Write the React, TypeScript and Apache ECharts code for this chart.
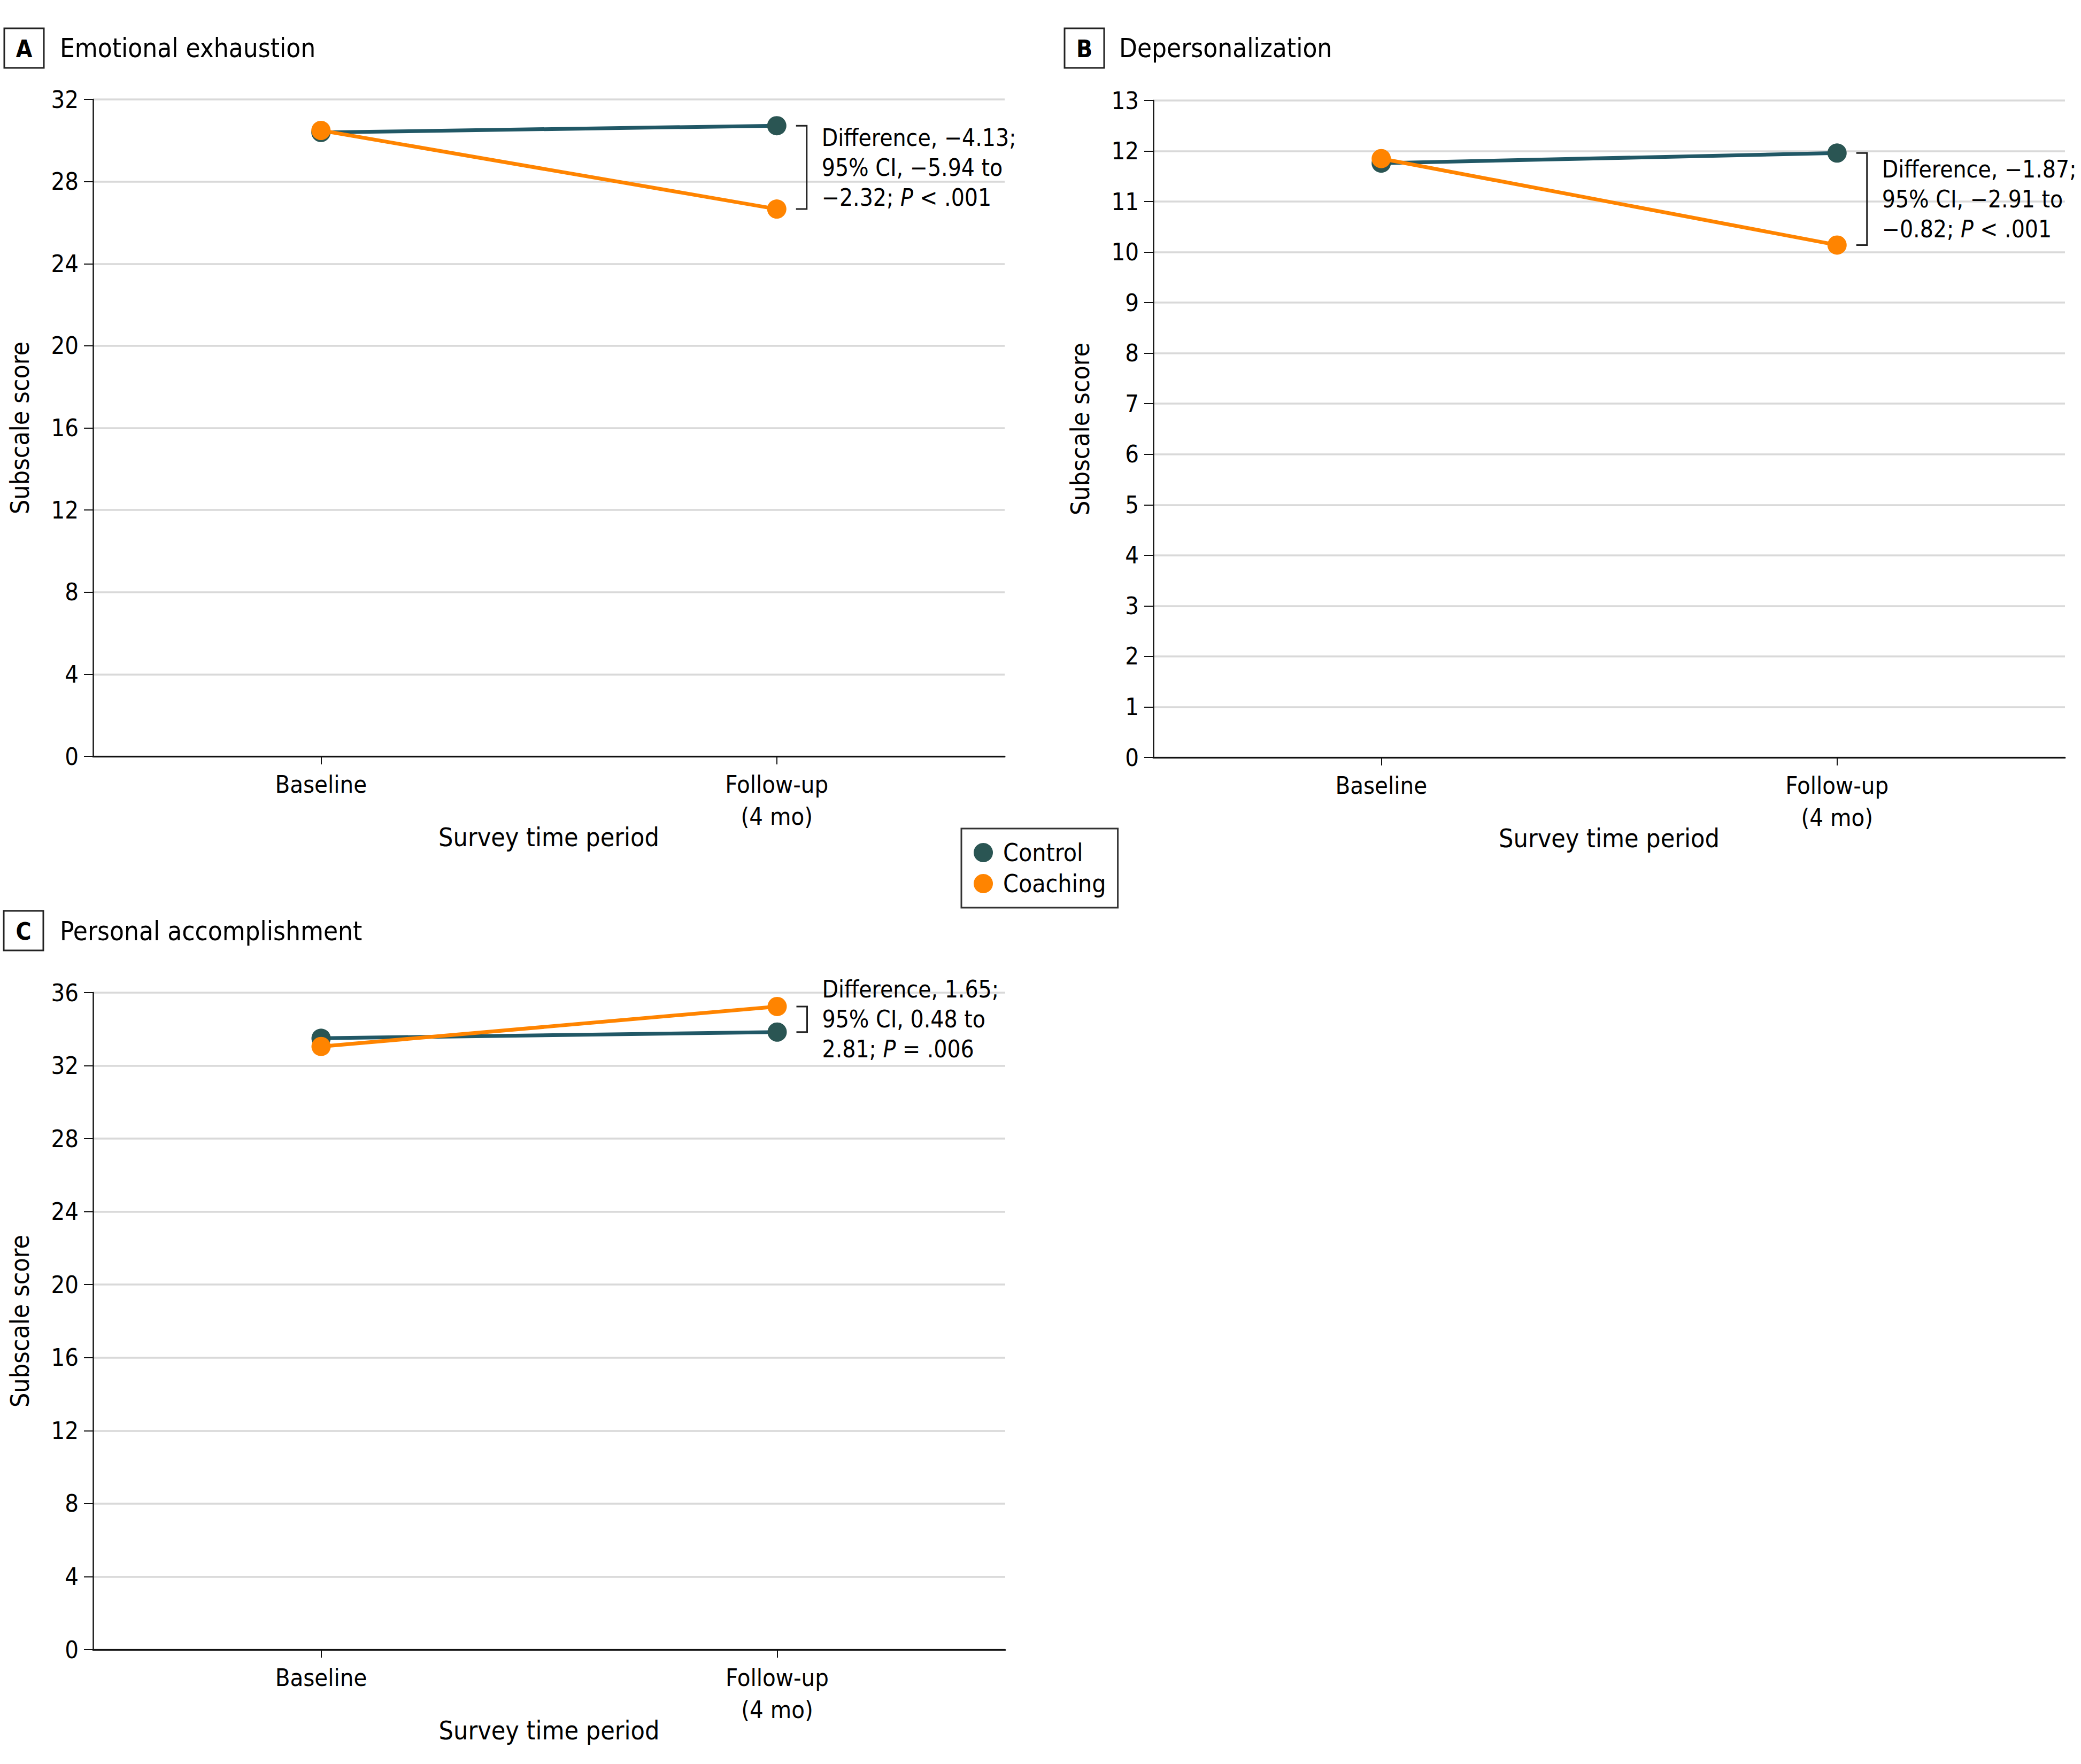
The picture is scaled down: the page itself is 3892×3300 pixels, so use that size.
import React, { useEffect, useRef } from "react";
import * as echarts from "echarts";

const categories = ["Baseline", "Follow-up\n(4 mo)"];
const panelLetters = ["A", "B", "C"];
const panelTitles = ["Emotional exhaustion", "Depersonalization", "Personal accomplishment"];
const seriesNames = ["Control", "Coaching"];

const controlA = [30.39, 30.72];
const coachingA = [30.49, 26.66];
const controlB = [11.76, 11.96];
const coachingB = [11.85, 10.14];
const controlC = [33.5, 33.84];
const coachingC = [33.05, 35.24];

const yMaxes = [32, 13, 36];
const yIntervals = [4, 1, 4];

const annotationA = ["Difference, −4.13;", "95% CI, −5.94 to", "−2.32; {i|P} < .001"];
const annotationB = ["Difference, −1.87;", "95% CI, −2.91 to", "−0.82; {i|P} < .001"];
const annotationC = ["Difference, 1.65;", "95% CI, 0.48 to", "2.81; {i|P} = .006"];

const FONT = "'Liberation Sans Narrow', 'DejaVu Sans Condensed', 'Roboto', sans-serif";
const CONTROL_MARK = "#2a5553";
const CONTROL_LINE = "#215866";
const COACH = "#ff8400";

export default function App() {
  const ref = useRef<HTMLDivElement>(null);

  useEffect(() => {
    document.body.style.margin = "0";
    if (!ref.current) return;
    const chart = echarts.init(ref.current, undefined, { renderer: "svg" });

    const grids = [
      { left: 174, top: 186, width: 1705, height: 1229 },
      { left: 2157, top: 188, width: 1705, height: 1229 },
      { left: 174, top: 1857, width: 1706, height: 1229 },
    ];
    const controls = [controlA, controlB, controlC];
    const coachings = [coachingA, coachingB, coachingC];
    const annotations = [annotationA, annotationB, annotationC];

    const xAxes = grids.map((_, i) => ({
      type: "category",
      gridIndex: i,
      data: categories,
      boundaryGap: true,
      name: "Survey time period",
      nameLocation: "middle",
      nameGap: 127,
      nameMoveOverlap: false,
      nameTextStyle: { fontSize: 48, fontFamily: FONT, color: "#000" },
      axisLine: { show: true, lineStyle: { color: "#111", width: 3 } },
      axisTick: { show: true, alignWithLabel: true, length: 15, lineStyle: { color: "#111", width: 2 } },
      axisLabel: { fontSize: 45, lineHeight: 60, margin: 22, color: "#000", fontFamily: FONT, interval: 0 },
      splitLine: { show: false },
    }));

    const yAxes = grids.map((_, i) => ({
      type: "value",
      gridIndex: i,
      min: 0,
      max: yMaxes[i],
      interval: yIntervals[i],
      name: "Subscale score",
      nameLocation: "middle",
      nameGap: 113,
      nameMoveOverlap: false,
      nameTextStyle: { fontSize: 48, fontFamily: FONT, color: "#000" },
      axisLine: { show: true, lineStyle: { color: "#111", width: 2.5 } },
      axisTick: { show: true, length: 17, lineStyle: { color: "#111", width: 2 } },
      axisLabel: { fontSize: 45, margin: 27, color: "#000", fontFamily: FONT },
      splitLine: { show: true, lineStyle: { color: "#d9d9d9", width: 3.5 } },
    }));

    const series: any[] = [];
    grids.forEach((_, i) => {
      series.push({
        type: "line",
        name: seriesNames[0],
        xAxisIndex: i,
        yAxisIndex: i,
        data: controls[i],
        symbol: "circle",
        symbolSize: 36,
        lineStyle: { color: CONTROL_LINE, width: 7 },
        itemStyle: { color: CONTROL_MARK },
        z: 3,
      });
      series.push({
        type: "line",
        name: seriesNames[1],
        xAxisIndex: i,
        yAxisIndex: i,
        data: coachings[i],
        symbol: "circle",
        symbolSize: 36,
        lineStyle: { color: COACH, width: 7 },
        itemStyle: { color: COACH },
        z: 4,
      });
    });

    const titleBoxes = [
      { x: 8, y: 53, tx: 112, cy: 90 },
      { x: 1991, y: 53, tx: 2093, cy: 90 },
      { x: 7, y: 1704, tx: 112, cy: 1742 },
    ];
    const titleGraphics: any[] = [];
    titleBoxes.forEach((b, i) => {
      titleGraphics.push({
        type: "rect",
        z: 100,
        shape: { x: b.x, y: b.y, width: 74, height: 74 },
        style: { fill: "none", stroke: "#222", lineWidth: 3 },
      });
      titleGraphics.push({
        type: "text",
        z: 100,
        x: b.x + 37,
        y: b.y + 38,
        style: {
          text: panelLetters[i],
          fontSize: 44,
          fontWeight: "bold",
          fontFamily: FONT,
          fill: "#000",
          align: "center",
          verticalAlign: "middle",
        },
      });
      titleGraphics.push({
        type: "text",
        z: 100,
        x: b.tx,
        y: b.cy,
        style: {
          text: panelTitles[i],
          fontSize: 49,
          fontFamily: FONT,
          fill: "#000",
          align: "left",
          verticalAlign: "middle",
        },
      });
    });

    chart.setOption({
      animation: false,
      backgroundColor: "#fff",
      textStyle: { fontFamily: FONT },
      grid: grids,
      xAxis: xAxes,
      yAxis: yAxes,
      series,
      legend: {
        data: seriesNames,
        orient: "vertical",
        left: 1798,
        top: 1550,
        icon: "circle",
        itemWidth: 36,
        itemHeight: 36,
        itemGap: 12,
        padding: [22, 22, 22, 23],
        borderColor: "#333",
        borderWidth: 3,
        selectedMode: false,
        textStyle: { fontSize: 46, fontFamily: FONT, color: "#000", padding: [0, 0, 0, 14] },
      },
      graphic: titleGraphics,
    });

    const annGraphics: any[] = [];
    grids.forEach((_, i) => {
      const pTop = chart.convertToPixel({ gridIndex: i } as any, [1, Math.max(controls[i][1], coachings[i][1])]) as number[];
      const pBot = chart.convertToPixel({ gridIndex: i } as any, [1, Math.min(controls[i][1], coachings[i][1])]) as number[];
      const x0 = pTop[0] + 36;
      const x1 = pTop[0] + 56;
      annGraphics.push({
        type: "polyline",
        z: 100,
        shape: { points: [[x0, pTop[1]], [x1, pTop[1]], [x1, pBot[1]], [x0, pBot[1]]] },
        style: { stroke: "#222", lineWidth: 3, fill: "none" },
      });
      annGraphics.push({
        type: "text",
        z: 100,
        x: pTop[0] + 84,
        y: (pTop[1] + pBot[1]) / 2,
        style: {
          text: annotations[i].join("\n"),
          fontSize: 44,
          lineHeight: 56,
          fontFamily: FONT,
          fill: "#000",
          align: "left",
          verticalAlign: "middle",
          rich: {
            i: { fontSize: 44, lineHeight: 56, fontFamily: FONT, fontStyle: "italic", fill: "#000" },
          },
        },
      });
    });

    chart.setOption({ graphic: [...titleGraphics, ...annGraphics] });

    return () => {
      chart.dispose();
    };
  }, []);

  return <div ref={ref} style={{ width: 3892, height: 3300 }} />;
}
